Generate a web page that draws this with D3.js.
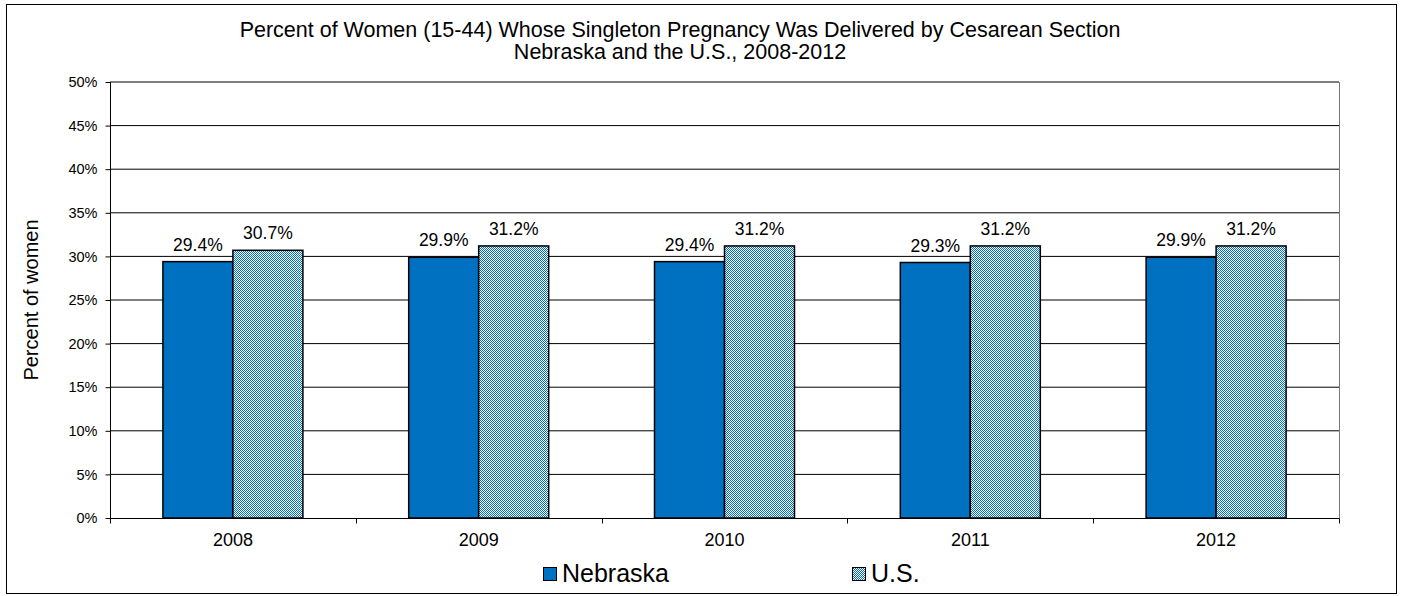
<!DOCTYPE html>
<html>
<head>
<meta charset="utf-8">
<script src="https://cdn.jsdelivr.net/npm/d3@7"></script>
<style>
  body { margin: 0; background: #fff; }
  svg text { font-family: "Liberation Sans", Arial, sans-serif; fill: #000; }
</style>
</head>
<body>
<svg id="mainSvg" width="1402" height="596"></svg>
<script>
// chart data
var years = ["2008", "2009", "2010", "2011", "2012"];
var nebraska = [29.4, 29.9, 29.4, 29.3, 29.9];
var us = [30.7, 31.2, 31.2, 31.2, 31.2];
var seriesNames = ["Nebraska", "U.S."];
var yTicks = [0, 5, 10, 15, 20, 25, 30, 35, 40, 45, 50];
var titleLines = ["Percent of Women (15-44) Whose Singleton Pregnancy Was Delivered by Cesarean Section",
                  "Nebraska and the U.S., 2008-2012"];

var svg = d3.select("#mainSvg");
var blue = "#0070C0";

// checker pattern for the U.S. bars
var defs = svg.append("defs");
var pat = defs.append("pattern").attr("id", "checker").attr("patternUnits", "userSpaceOnUse")
    .attr("width", 2).attr("height", 2);
pat.append("rect").attr("width", 2).attr("height", 2).attr("fill", "#fff");
pat.append("rect").attr("width", 1).attr("height", 1).attr("fill", blue);
pat.append("rect").attr("x", 1).attr("y", 1).attr("width", 1).attr("height", 1).attr("fill", blue);

// outer border
svg.append("rect").attr("x", 6.5).attr("y", 4.5).attr("width", 1390).attr("height", 589)
    .attr("fill", "none").attr("stroke", "#000").attr("stroke-width", 1);

var plot = {left: 110, right: 1339, top: 82, bottom: 518};

var x = d3.scaleBand().domain(years).range([plot.left, plot.right]);
var y = d3.scaleLinear().domain([0, 50]).range([plot.bottom, plot.top]);
var barW = 70;

// gridlines (left unrounded so some come out grey, some black, like the original)
svg.selectAll(".grid").data(yTicks.slice(1)).enter().append("line")
    .attr("class", "grid")
    .attr("x1", plot.left).attr("x2", plot.right)
    .attr("y1", function (d) { return y(d); })
    .attr("y2", function (d) { return y(d); })
    .attr("stroke", "#000").attr("stroke-width", 1);
// right border of plot
svg.append("line").attr("x1", plot.right + 0.5).attr("x2", plot.right + 0.5)
    .attr("y1", plot.top).attr("y2", plot.bottom + 5).attr("stroke", "#777");

// y axis
var yAxis = d3.axisLeft(y).tickValues(yTicks).tickSize(5).tickPadding(8)
    .tickFormat(function (d) { return d + "%"; });
var gy = svg.append("g").attr("transform", "translate(" + (plot.left + 0.5) + ",0)").call(yAxis);
gy.select(".domain").attr("stroke", "#000").attr("d", "M0," + (plot.top) + "V" + plot.bottom);
gy.selectAll("text").style("font-size", "14.5px");

// x axis with ticks between categories
var gx = svg.append("g").attr("transform", "translate(0," + (plot.bottom + 0.5) + ")");
gx.append("line").attr("x1", plot.left).attr("x2", plot.right).attr("stroke", "#000");
var bounds = years.map(function (d) { return x(d); }).concat([plot.right]);
gx.selectAll(".xt").data(bounds).enter().append("line")
    .attr("x1", function (d) { return Math.round(d) + 0.5; }).attr("x2", function (d) { return Math.round(d) + 0.5; })
    .attr("y1", 0).attr("y2", 5).attr("stroke", "#000");
gx.selectAll(".xl").data(years).enter().append("text")
    .attr("x", function (d) { return x(d) + x.bandwidth() / 2; }).attr("y", 27)
    .attr("text-anchor", "middle").style("font-size", "18px").text(function (d) { return d; });

// bars
var rows = years.map(function (d, i) { return {year: d, ne: nebraska[i], us: us[i]}; });
var g = svg.append("g");
g.selectAll(".ne").data(rows).enter().append("rect")
    .attr("x", function (d) { return x(d.year) + x.bandwidth() / 2 - barW; })
    .attr("y", function (d) { return y(d.ne); })
    .attr("width", barW).attr("height", function (d) { return y(0) - y(d.ne); })
    .attr("fill", blue).attr("stroke", "#000").attr("stroke-width", 1.5);
g.selectAll(".us").data(rows).enter().append("rect")
    .attr("x", function (d) { return x(d.year) + x.bandwidth() / 2; })
    .attr("y", function (d) { return y(d.us); })
    .attr("width", barW).attr("height", function (d) { return y(0) - y(d.us); })
    .attr("fill", "url(#checker)").attr("stroke", "#000").attr("stroke-width", 1.5);

// value labels
g.selectAll(".nel").data(rows).enter().append("text")
    .attr("x", function (d) { return x(d.year) + x.bandwidth() / 2 - barW / 2; })
    .attr("y", function (d) { return y(d.ne) - 11; })
    .attr("text-anchor", "middle").style("font-size", "17.5px")
    .text(function (d) { return d.ne.toFixed(1) + "%"; });
g.selectAll(".usl").data(rows).enter().append("text")
    .attr("x", function (d) { return x(d.year) + x.bandwidth() / 2 + barW / 2; })
    .attr("y", function (d) { return y(d.us) - 11; })
    .attr("text-anchor", "middle").style("font-size", "17.5px")
    .text(function (d) { return d.us.toFixed(1) + "%"; });

// title
svg.selectAll(".title").data(titleLines).enter().append("text")
    .attr("x", 680).attr("y", function (d, i) { return 37 + i * 22; })
    .attr("text-anchor", "middle").style("font-size", "21.5px").text(function (d) { return d; });

// y axis title
svg.append("text").attr("transform", "translate(38,300) rotate(-90)")
    .attr("text-anchor", "middle").style("font-size", "20px").text("Percent of women");

// legend
var legendX = [543, 852];
var lg = svg.selectAll(".legend").data(seriesNames).enter().append("g")
    .attr("transform", function (d, i) { return "translate(" + legendX[i] + ",567)"; });
lg.append("rect").attr("x", 0.5).attr("y", 0.5).attr("width", 13).attr("height", 13)
    .attr("fill", function (d, i) { return i == 0 ? blue : "url(#checker)"; })
    .attr("stroke", "#000").attr("stroke-width", 1);
lg.append("text").attr("x", 19).attr("y", 15).style("font-size", "25px").text(function (d) { return d; });
</script>
</body>
</html>
